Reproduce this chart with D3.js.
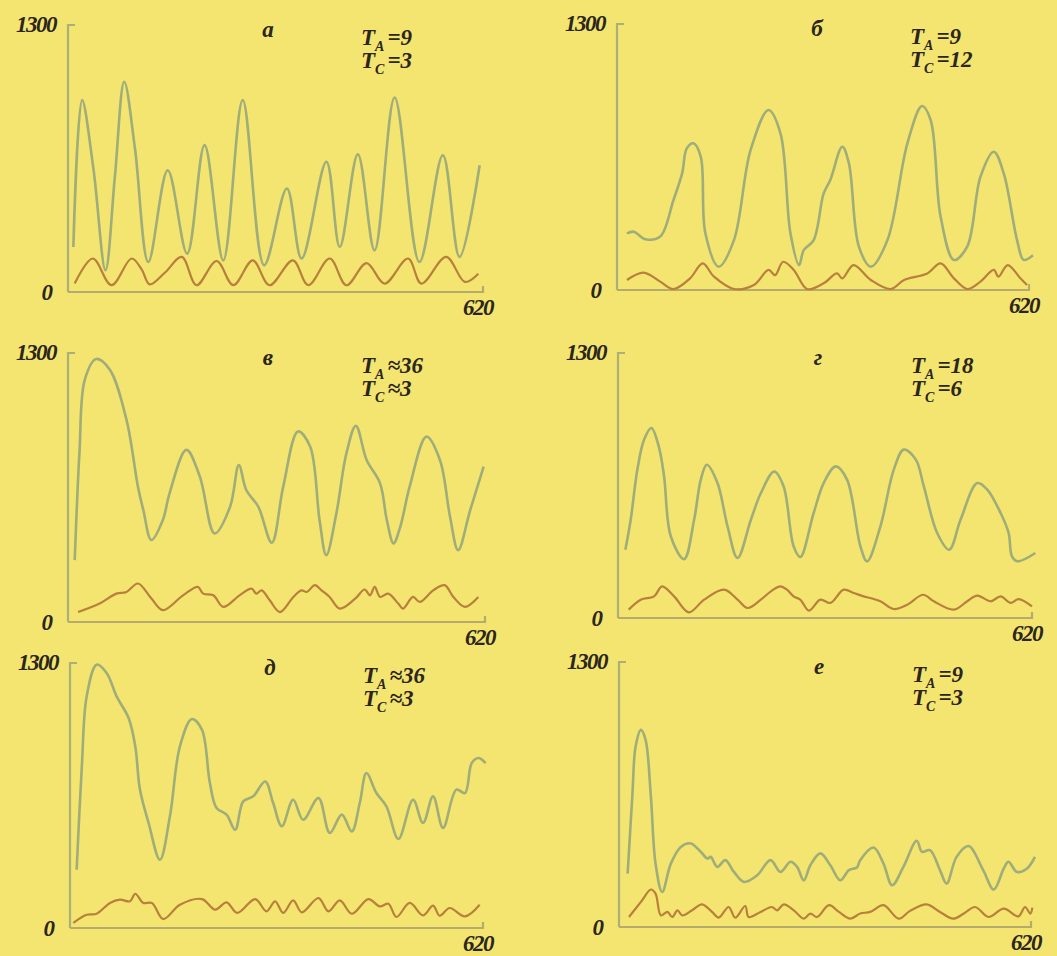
<!DOCTYPE html>
<meta charset="utf-8">
<script src="https://d3js.org/d3.v7.min.js"></script>
<style>
  body { margin: 0; background: #f3e56f; }
  text { font-family: "Liberation Serif", "DejaVu Serif", serif; font-style: italic; font-weight: bold; fill: #2b2620; }
</style>
<svg id="chart" width="1057" height="956"></svg>
<script>
// axis limits shared by all six panels
const xMax = 620, yMax = 1300;

// panel captions
const panelLetters = ["а", "б", "в", "г", "д", "е"];
const periodA = [9, 9, 36, 18, 36, 9];
const periodC = [3, 12, 3, 6, 3, 3];
const relation = ["=", "=", "≈", "=", "≈", "="];

// series as [x, value]
const greenA = [[8,219],[21,934],[38,600],[56,106],[70,560],[84,1024],[100,700],[120,146],[149,593],[178,187],[204,715],[232,154],[261,934],[293,130],[327,504],[349,163],[386,634],[406,219],[433,671],[458,203],[488,947],[525,146],[560,666],[585,171],[615,617]];
const orangeA = [[10,41],[37,163],[65,33],[95,163],[110,110],[122,37],[145,95],[170,171],[192,33],[222,151],[247,33],[276,154],[301,33],[336,154],[359,33],[391,163],[416,33],[446,141],[473,41],[508,163],[528,41],[565,171],[593,49],[613,89]];

const greenB = [[15,277],[25,285],[43,248],[65,261],[85,440],[98,570],[105,692],[115,717],[126,652],[133,277],[153,114],[176,244],[201,684],[228,880],[246,766],[261,277],[274,122],[281,195],[296,244],[311,472],[321,538],[339,700],[349,619],[364,212],[382,114],[407,244],[437,717],[459,899],[472,831],[487,358],[507,147],[527,212],[547,554],[567,676],[582,570],[602,244],[612,147],[626,170]];
const orangeB = [[15,49],[40,85],[65,41],[85,5],[110,57],[129,130],[146,65],[176,5],[206,24],[228,98],[238,73],[250,138],[266,98],[286,5],[311,33],[331,81],[339,57],[356,122],[382,49],[412,5],[432,49],[467,81],[487,130],[507,57],[527,5],[547,41],[567,98],[574,65],[588,122],[607,57],[617,24]];

const greenV = [[10,299],[17,816],[25,1171],[42,1271],[62,1220],[87,977],[104,654],[112,541],[124,396],[141,493],[151,622],[176,832],[196,703],[218,428],[241,557],[254,759],[265,638],[283,557],[303,383],[320,654],[342,921],[360,848],[374,493],[384,323],[399,525],[414,816],[428,948],[444,783],[464,670],[474,493],[484,380],[494,460],[508,654],[533,896],[553,783],[568,509],[580,347],[598,541],[618,751]];
const orangeV = [[15,48],[47,89],[72,137],[87,145],[104,186],[124,113],[141,57],[171,129],[193,170],[201,137],[216,129],[231,73],[255,129],[273,161],[280,137],[288,153],[300,105],[315,48],[335,121],[347,153],[355,145],[367,178],[377,153],[389,121],[404,65],[427,113],[441,157],[449,129],[456,170],[464,121],[476,137],[491,89],[498,65],[513,121],[523,97],[543,153],[560,178],[573,121],[590,73],[610,121]];

const greenG = [[11,335],[19,482],[29,728],[39,875],[50,932],[61,842],[69,695],[79,401],[99,289],[114,482],[124,679],[133,752],[149,662],[164,450],[179,294],[199,482],[214,613],[234,719],[248,646],[263,352],[273,299],[293,515],[308,662],[326,744],[343,679],[363,352],[373,278],[393,450],[413,728],[428,826],[446,777],[458,646],[478,417],[496,335],[513,482],[538,662],[553,630],[573,515],[585,417],[590,302],[598,278],[625,319]];
const orangeG = [[16,41],[34,90],[54,106],[66,155],[84,106],[106,28],[129,90],[159,139],[179,90],[194,49],[214,90],[229,131],[243,155],[253,139],[263,106],[273,90],[286,36],[303,90],[318,74],[338,139],[353,123],[368,106],[378,98],[393,82],[413,44],[433,65],[457,114],[473,82],[503,41],[523,82],[538,110],[558,82],[573,106],[588,74],[600,93],[620,57]];

const greenD = [[10,286],[18,809],[25,1136],[40,1292],[55,1251],[70,1136],[88,1030],[98,891],[105,679],[118,515],[135,335],[150,548],[165,891],[183,1025],[198,973],[210,711],[220,589],[235,556],[248,482],[260,621],[275,646],[293,719],[305,613],[318,499],[335,629],[350,531],[373,638],[390,466],[408,556],[423,474],[435,613],[445,760],[460,662],[475,597],[493,437],[515,629],[530,515],[545,646],[560,491],[580,679],[593,662],[603,809],[613,834],[624,809]];
const orangeD = [[5,25],[25,65],[40,70],[60,123],[75,139],[90,131],[98,168],[110,123],[123,123],[140,44],[165,114],[198,142],[218,90],[235,126],[251,74],[278,142],[295,82],[308,131],[320,74],[335,136],[348,77],[373,147],[388,82],[405,136],[423,70],[448,142],[465,106],[478,119],[490,54],[510,123],[530,62],[545,110],[555,60],[570,98],[593,57],[615,114]];

const greenE = [[13,262],[20,639],[25,885],[33,967],[40,918],[48,639],[55,311],[65,172],[78,311],[93,393],[108,410],[123,369],[133,336],[138,344],[148,295],[160,328],[173,270],[188,221],[208,254],[228,328],[243,270],[258,320],[268,295],[278,229],[288,303],[303,361],[318,303],[333,229],[346,279],[358,292],[363,328],[383,390],[398,311],[411,205],[428,295],[448,423],[456,369],[468,377],[483,279],[493,213],[508,344],[526,397],[548,279],[564,184],[579,287],[586,320],[599,270],[614,287],[626,344]];
const orangeE = [[15,49],[33,123],[48,184],[55,164],[63,57],[73,74],[80,49],[88,82],[95,57],[110,82],[125,111],[140,74],[150,46],[165,98],[175,46],[190,103],[195,49],[213,74],[230,98],[238,82],[248,111],[263,82],[278,41],[288,66],[298,49],[316,107],[331,74],[348,41],[363,66],[378,74],[398,107],[421,41],[438,79],[463,111],[483,74],[503,41],[519,66],[536,98],[556,49],[579,90],[601,52],[611,98],[619,66],[622,95]];

const greenSeries = [greenA, greenB, greenV, greenG, greenD, greenE];
const orangeSeries = [orangeA, orangeB, orangeV, orangeG, orangeD, orangeE];

// where each panel sits on the page
const layout = [
  {left: 68,  right: 483,  top: 25,  bottom: 292},
  {left: 617, right: 1029, top: 24,  bottom: 290},
  {left: 68,  right: 485,  top: 353, bottom: 622},
  {left: 618, right: 1032, top: 353, bottom: 618},
  {left: 70,  right: 483,  top: 663, bottom: 928},
  {left: 619, right: 1031, top: 662, bottom: 927}
];

const svg = d3.select("#chart");
svg.append("rect").attr("width", 1057).attr("height", 956).attr("fill", "#f3e56f");

layout.forEach(function(box, i) {
  const x = d3.scaleLinear().domain([0, xMax]).range([box.left, box.right]);
  const y = d3.scaleLinear().domain([0, yMax]).range([box.bottom, box.top]);
  const g = svg.append("g");

  // axes: vertical with a small hook at the top, horizontal with a small tick at the end
  g.append("path")
    .attr("d", `M${x(0) + 7},${y(yMax)}H${x(0)}V${y(0)}`)
    .attr("fill", "none").attr("stroke", "#a9b07a").attr("stroke-width", 2.2);
  g.append("path")
    .attr("d", `M${x(0)},${y(0)}H${x(xMax)}V${y(0) - 6}`)
    .attr("fill", "none").attr("stroke", "#b6aa6c").attr("stroke-width", 2.2);

  const line = d3.line()
    .x(d => x(d[0]))
    .y(d => y(d[1]))
    .curve(d3.curveCatmullRom.alpha(0.5));

  g.append("path")
    .datum(orangeSeries[i])
    .attr("d", line)
    .attr("fill", "none").attr("stroke", "#b8803c").attr("stroke-width", 2.2)
    .attr("stroke-linejoin", "round");

  g.append("path")
    .datum(greenSeries[i])
    .attr("d", line)
    .attr("fill", "none").attr("stroke", "#9fad7a").attr("stroke-width", 2.6)
    .attr("stroke-linejoin", "round");

  // labels
  g.append("text").attr("x", x(0) - 12).attr("y", y(yMax) + 7)
    .attr("text-anchor", "end").style("font-size", "23px").style("letter-spacing", "-1.5px")
    .text(yMax);
  g.append("text").attr("x", x(0) - 15).attr("y", y(0) + 8)
    .attr("text-anchor", "end").style("font-size", "23px")
    .text(0);
  g.append("text").attr("x", x(xMax) + 10).attr("y", y(0) + 23)
    .attr("text-anchor", "end").style("font-size", "23px").style("letter-spacing", "-1.5px")
    .text(xMax);

  g.append("text").attr("x", x(0) + 200).attr("y", y(yMax) + 12)
    .attr("text-anchor", "middle").style("font-size", "23px")
    .text(panelLetters[i]);

  const ta = g.append("text").attr("x", x(0) + 293).attr("y", y(yMax) + 20).style("font-size", "23px");
  ta.append("tspan").text("T");
  ta.append("tspan").attr("dy", 6).style("font-size", "14px").text("A");
  ta.append("tspan").attr("dy", -6).attr("dx", 3).text(relation[i] + periodA[i]);

  const tc = g.append("text").attr("x", x(0) + 293).attr("y", y(yMax) + 43).style("font-size", "23px");
  tc.append("tspan").text("T");
  tc.append("tspan").attr("dy", 6).style("font-size", "14px").text("C");
  tc.append("tspan").attr("dy", -6).attr("dx", 3).text(relation[i] + periodC[i]);
});
</script>
